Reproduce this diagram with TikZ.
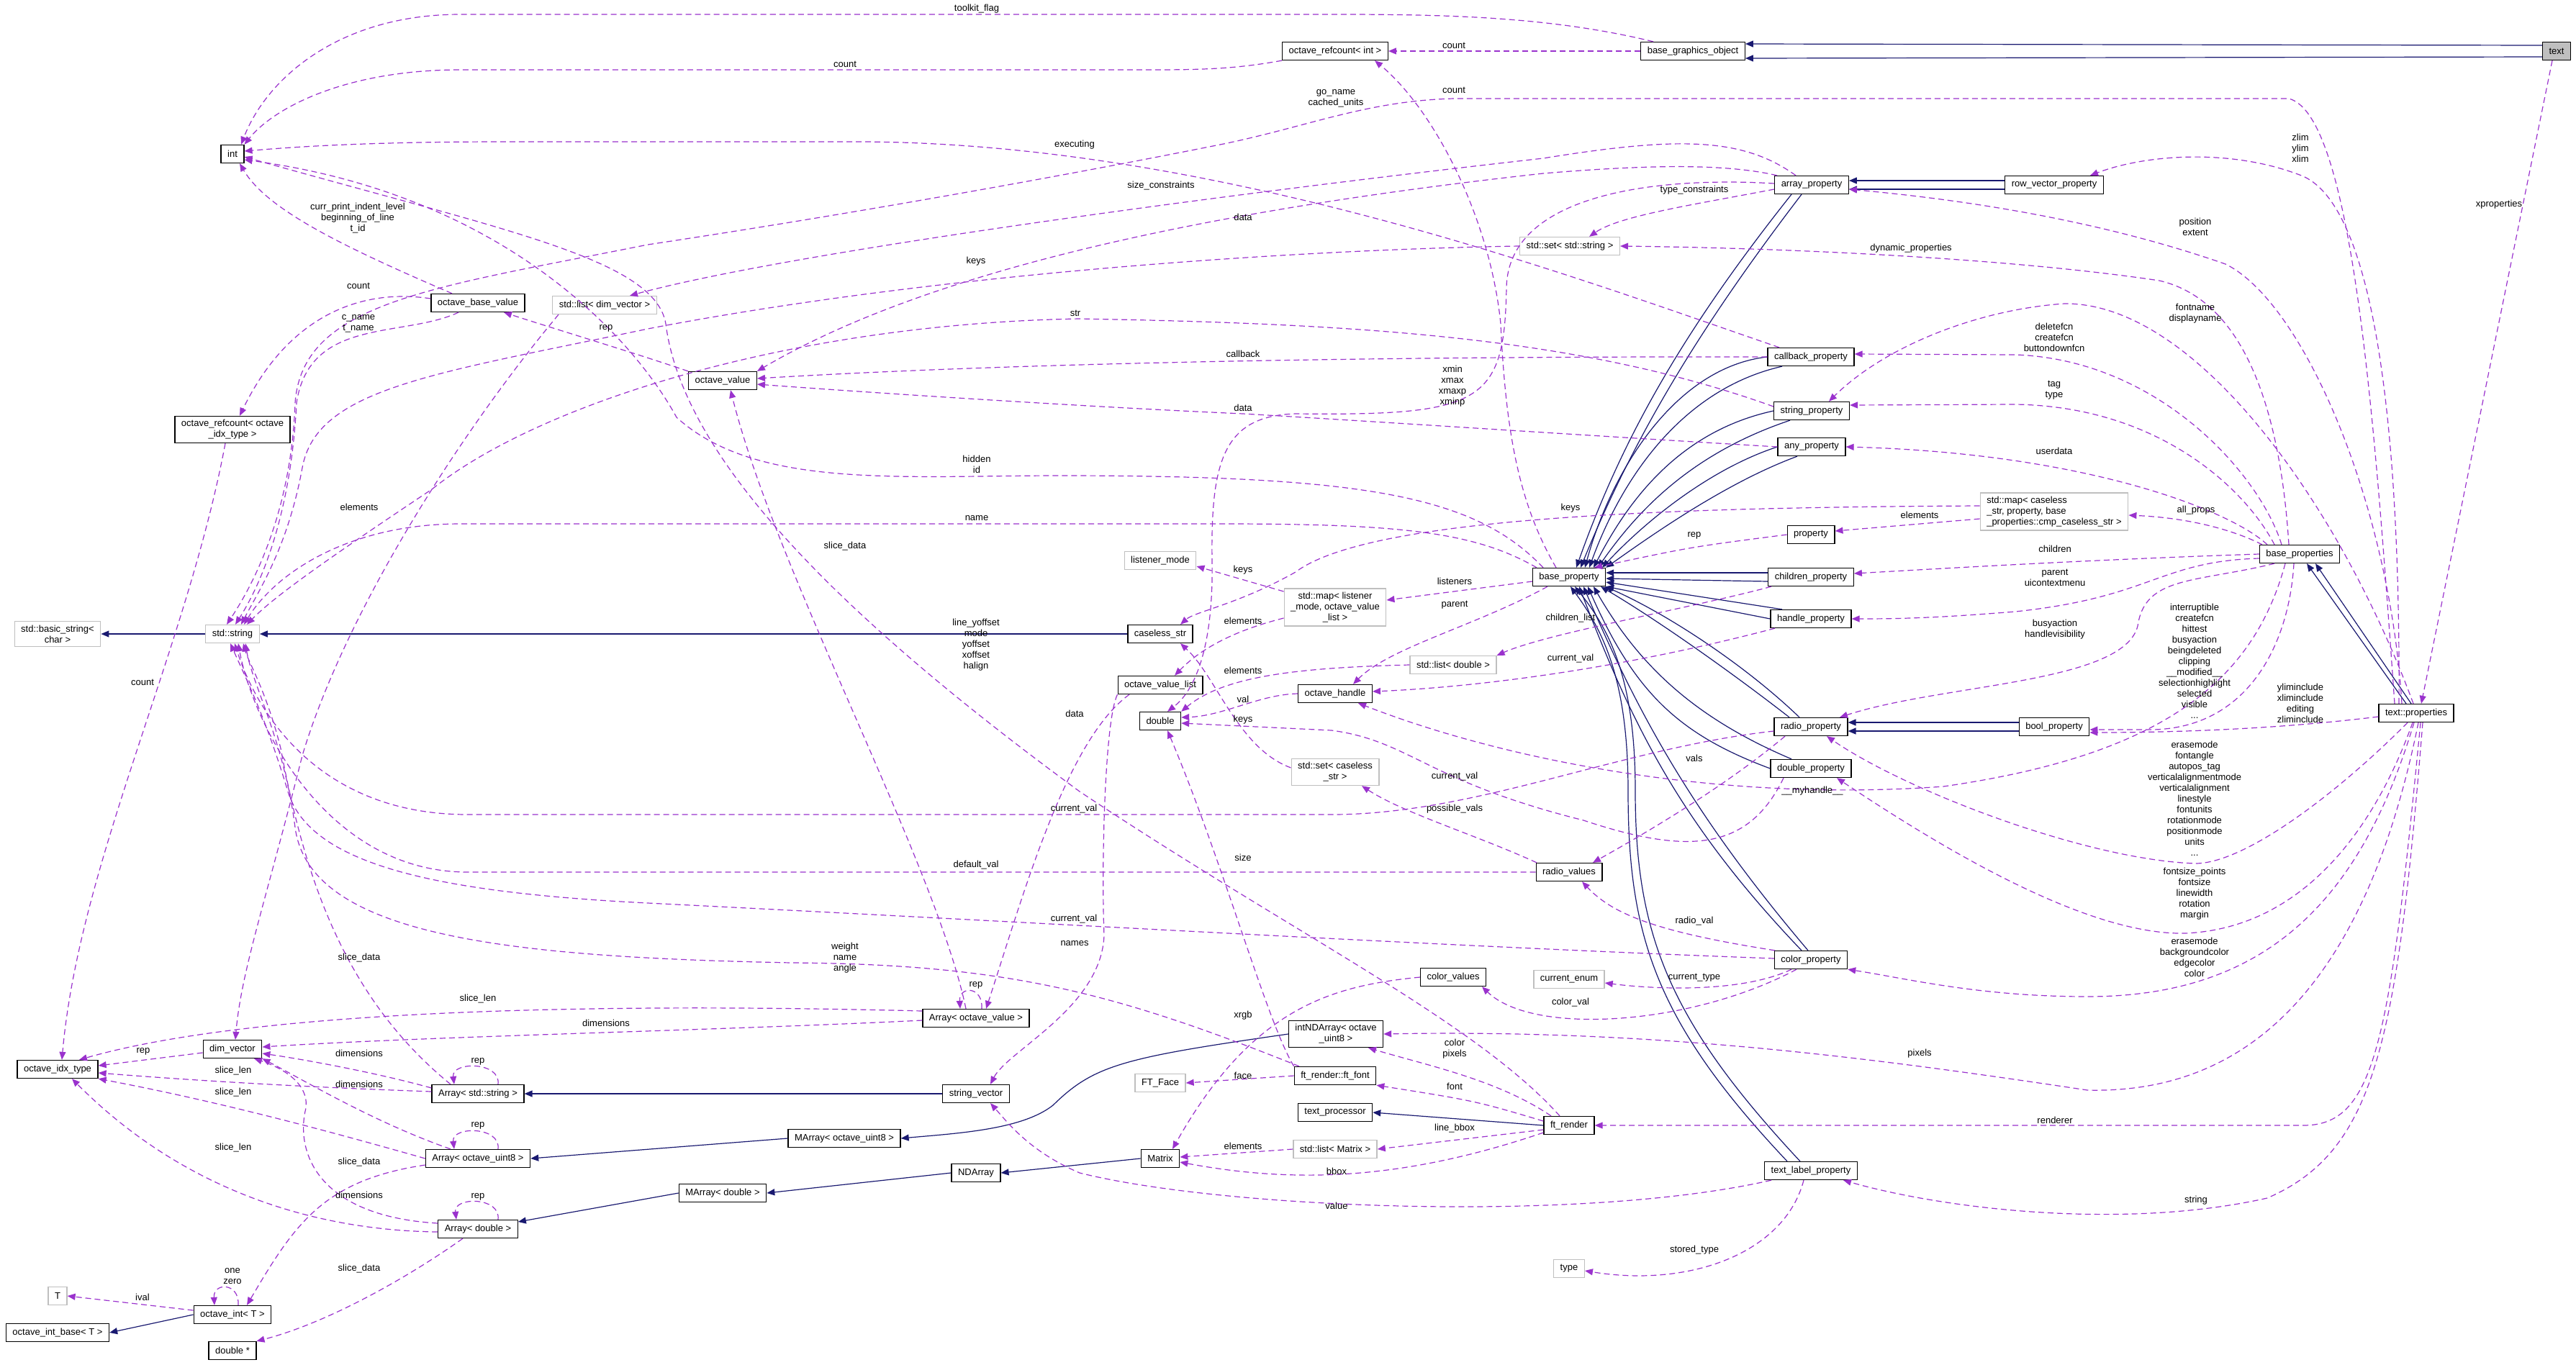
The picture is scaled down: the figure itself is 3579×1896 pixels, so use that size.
\documentclass[tikz,border=0pt]{standalone}
\usepackage{fontspec}
\setmainfont{Liberation Sans}
\usetikzlibrary{arrows.meta}
\definecolor{inhblue}{HTML}{191970}
\definecolor{usepurple}{HTML}{9A32CD}
\definecolor{extgray}{HTML}{BFBFBF}

\begin{document}
\begin{tikzpicture}[x=1pt, y=-1pt,
    cls/.style={draw=black, fill=white, line width=1.3pt, font=\fontsize{13}{15}\selectfont, minimum height=25pt, inner xsep=9pt, inner ysep=5pt, align=center},
    extcls/.style={cls, draw=extgray},
    inhedge/.style={draw=inhblue, line width=1.2pt, -{Triangle[length=11pt,width=9pt]}},
    usedge/.style={draw=usepurple, line width=1.2pt, dash pattern=on 8pt off 5pt, -{Triangle[length=11pt,width=9pt]}},
    lbl/.style={font=\fontsize{13}{15}\selectfont, align=center, inner sep=0pt}]
    \useasboundingbox (0,0) rectangle (3579,1896);

    % Classes, top rows
    \node[cls, fill=extgray] (txt) at (3552,71) {text};
    \node[cls] (bgo) at (2352,71) {base\_graphics\_object};
    \node[cls] (rcint) at (1855,71) {octave\_refcount< int >};
    \node[cls] (nint) at (323,214) {int};
    \node[cls] (obv) at (664,421) {octave\_base\_value};
    \node[extcls] (ldim) at (840,424) {std::list< dim\_vector >};
    \node[cls] (rcidx) at (323,597) {octave\_refcount< octave\\\_idx\_type >};
    \node[cls] (ov) at (1004,529) {octave\_value};
    \node[cls] (arr) at (2517,257) {array\_property};
    \node[cls] (rvp) at (2854,257) {row\_vector\_property};
    \node[extcls] (sset) at (2181,342) {std::set< std::string >};
    \node[cls] (cbp) at (2516,496) {callback\_property};
    \node[cls] (strp) at (2517,571) {string\_property};
    \node[cls] (anyp) at (2517,621) {any\_property};

    % Classes, middle rows
    \node[extcls] (bstr) at (80,881) {std::basic\_string<\\char >};
    \node[extcls] (str) at (323,881) {std::string};
    \node[extcls] (lmode) at (1612,779) {listener\_mode};
    \node[cls] (cstr) at (1612,881) {caseless\_str};
    \node[cls] (ovl) at (1612,952) {octave\_value\_list};
    \node[cls] (dbl) at (1612,1002) {double};
    \node[extcls] (mlis) at (1855,844) {std::map< listener\\\_mode, octave\_value\\\_list >};
    \node[extcls] (scs) at (1855,1073) {std::set< caseless\\\_str >};
    \node[cls] (bp) at (2180,802) {base\_property};
    \node[cls] (prop) at (2516,743) {property};
    \node[cls] (chp) at (2516,802) {children\_property};
    \node[cls] (hp) at (2516,860) {handle\_property};
    \node[extcls] (ldbl) at (2019,924) {std::list< double >};
    \node[cls] (oh) at (1855,964) {octave\_handle};
    \node[cls] (rp) at (2516,1010) {radio\_property};
    \node[cls] (dp) at (2516,1068) {double\_property};
    \node[cls] (rv) at (2180,1212) {radio\_values};
    \node[extcls, align=left] (mcs) at (2854,711) {std::map< caseless\\\_str, property, base\\\_properties::cmp\_caseless\_str >};
    \node[cls] (bps) at (3195,770) {base\_properties};
    \node[cls] (boolp) at (2854,1010) {bool\_property};
    \node[cls] (tprop) at (3357,991) {text::properties};

    % Classes, bottom rows
    \node[cls] (idx) at (80,1486) {octave\_idx\_type};
    \node[cls] (dimv) at (323,1458) {dim\_vector};
    \node[cls] (astr) at (664,1520) {Array< std::string >};
    \node[cls] (au8) at (664,1610) {Array< octave\_uint8 >};
    \node[cls] (adbl) at (664,1708) {Array< double >};
    \node[extcls] (T) at (80,1801) {T};
    \node[cls] (oint) at (323,1827) {octave\_int< T >};
    \node[cls] (oib) at (80,1852) {octave\_int\_base< T >};
    \node[cls] (dptr) at (323,1877) {double *};
    \node[cls] (aov) at (1356,1415) {Array< octave\_value >};
    \node[cls] (sv) at (1356,1520) {string\_vector};
    \node[cls] (mu8) at (1173,1582) {MArray< octave\_uint8 >};
    \node[cls] (nda) at (1356,1630) {NDArray};
    \node[cls] (mdbl) at (1004,1658) {MArray< double >};
    \node[extcls] (ftface) at (1612,1505) {FT\_Face};
    \node[cls] (mat) at (1612,1610) {Matrix};
    \node[cls] (inda) at (1856,1437) {intNDArray< octave\\\_uint8 >};
    \node[cls] (cv) at (2019,1358) {color\_values};
    \node[extcls] (cenum) at (2180,1361) {current\_enum};
    \node[cls] (cp) at (2516,1334) {color\_property};
    \node[cls] (ftfont) at (1855,1495) {ft\_render::ft\_font};
    \node[cls] (tproc) at (1855,1546) {text\_processor};
    \node[cls] (ftr) at (2180,1564) {ft\_render};
    \node[extcls] (lmat) at (1855,1597) {std::list< Matrix >};
    \node[cls] (tlp) at (2516,1627) {text\_label\_property};
    \node[extcls] (type) at (2180,1763) {type};

    % Inheritance
    \draw[inhedge] ([yshift=8pt]txt.west) -- ([yshift=10pt]bgo.east);
    \draw[inhedge] ([yshift=-8pt]txt.west) -- ([yshift=-10pt]bgo.east);
    \draw[inhedge] ([xshift=-14pt]tprop.north) -- ([xshift=10pt]bps.south);
    \draw[inhedge] ([xshift=-7pt]tprop.north) -- ([xshift=22pt]bps.south);
    \draw[inhedge] ([yshift=6pt]rvp.west) -- ([yshift=6pt]arr.east);
    \draw[inhedge] ([yshift=-6pt]rvp.west) -- ([yshift=-6pt]arr.east);
    \draw[inhedge] ([xshift=-28pt]arr.south) .. controls (2330,470) and (2250,620) .. ([xshift=10pt]bp.north);
    \draw[inhedge] ([xshift=-14pt]arr.south) .. controls (2350,470) and (2265,620) .. ([xshift=16pt]bp.north);
    \draw[inhedge] (cbp.west) .. controls (2330,510) and (2240,650) .. ([xshift=22pt]bp.north);
    \draw[inhedge] ([xshift=-40pt]cbp.south) .. controls (2340,540) and (2255,660) .. ([xshift=28pt]bp.north);
    \draw[inhedge] (strp.west) .. controls (2330,600) and (2260,700) .. ([xshift=34pt]bp.north);
    \draw[inhedge] ([xshift=-30pt]strp.south) .. controls (2350,630) and (2275,710) .. ([xshift=40pt]bp.north);
    \draw[inhedge] (anyp.west) .. controls (2380,650) and (2290,720) .. ([xshift=46pt]bp.north);
    \draw[inhedge] ([xshift=-20pt]anyp.south) .. controls (2400,670) and (2300,740) .. (bp.north east);
    \draw[inhedge] ([yshift=6pt]chp.west) -- ([yshift=6pt]bp.east);
    \draw[inhedge] ([yshift=-6pt]chp.west) -- ([yshift=-2pt]bp.east);
    \draw[inhedge] ([xshift=-40pt]hp.north) -- ([yshift=-7pt]bp.east);
    \draw[inhedge] (hp.west) -- (bp.south east);
    \draw[inhedge] ([xshift=-30pt]rp.north) .. controls (2400,930) and (2300,860) .. ([xshift=44pt]bp.south);
    \draw[inhedge] ([xshift=-16pt]rp.north) .. controls (2420,920) and (2310,850) .. ([xshift=50pt]bp.south);
    \draw[inhedge] (dp.west) .. controls (2330,1020) and (2270,960) .. ([xshift=26pt]bp.south);
    \draw[inhedge] ([xshift=-27pt]dp.north) .. controls (2360,1000) and (2280,930) .. ([xshift=34pt]bp.south);
    \draw[inhedge] ([xshift=-13pt]cp.north) .. controls (2330,1140) and (2265,1000) .. ([xshift=14pt]bp.south);
    \draw[inhedge] ([xshift=-4pt]cp.north) .. controls (2350,1130) and (2275,990) .. ([xshift=20pt]bp.south);
    \draw[inhedge] ([xshift=-33pt]tlp.north) .. controls (2300,1420) and (2262,1300) .. (2262,1100) .. controls (2262,950) and (2230,880) .. ([xshift=2pt]bp.south);
    \draw[inhedge] ([xshift=-15pt]tlp.north) .. controls (2320,1420) and (2272,1300) .. (2272,1100) .. controls (2272,950) and (2240,880) .. ([xshift=8pt]bp.south);
    \draw[inhedge] ([yshift=6pt]boolp.west) -- ([yshift=6pt]rp.east);
    \draw[inhedge] ([yshift=-6pt]boolp.west) -- ([yshift=-6pt]rp.east);
    \draw[inhedge] (str.west) -- (bstr.east);
    \draw[inhedge] (cstr.west) -- (str.east);
    \draw[inhedge] (sv.west) -- (astr.east);
    \draw[inhedge] (inda.west) .. controls (1560,1470) and (1520,1480) .. (1463,1536) .. controls (1420,1570) and (1330,1575) .. (mu8.east);
    \draw[inhedge] (mu8.west) -- (au8.east);
    \draw[inhedge] (mat.west) -- (nda.east);
    \draw[inhedge] (nda.west) -- (mdbl.east);
    \draw[inhedge] (mdbl.west) -- ([yshift=10pt]adbl.east);
    \draw[inhedge] (oint.west) -- (oib.east);
    \draw[inhedge] (ftr.west) -- (tproc.east);

    % Usage, top part
    \draw[usedge] ([xshift=-55pt]bgo.north) .. controls (2150,22) and (2000,20) .. (1850,20) -- (640,20) .. controls (470,20) and (370,110) .. ([xshift=12pt]nint.north);
    \draw[usedge] (bgo.west) -- (rcint.east);
    \draw[usedge] (rcint.south west) .. controls (1720,95) and (1680,97) .. (1600,97) -- (640,97) .. controls (480,97) and (380,150) .. (nint.north east);
    \draw[usedge] ([xshift=-18pt]bp.north) .. controls (2110,700) and (2092,600) .. (2085,450) .. controls (2070,300) and (1990,150) .. ([xshift=55pt]rcint.south);
    \draw[usedge] ([xshift=-30pt]tprop.north) .. controls (3300,600) and (3270,160) .. (3180,137) -- (2020,137) .. controls (1900,140) and (1820,175) .. (1700,200) .. controls (1400,260) and (1100,310) .. (900,340) .. controls (600,400) and (420,420) .. (410,560) .. controls (405,700) and (360,800) .. ([xshift=-8pt]str.north);
    \draw[usedge] ([xshift=-36pt]obv.north) .. controls (470,340) and (370,290) .. ([xshift=10pt]nint.south);
    \draw[usedge] ([yshift=6pt]obv.west) .. controls (500,400) and (400,440) .. ([xshift=10pt]rcidx.north);
    \draw[usedge] ([xshift=-27pt]obv.south) .. controls (560,470) and (430,440) .. (412,560) .. controls (405,700) and (370,800) .. ([xshift=4pt]str.north);
    \draw[usedge] (ov.north west) .. controls (880,490) and (780,460) .. ([xshift=36pt]obv.south);
    \draw[usedge] ([xshift=-44pt]cbp.north) .. controls (2200,390) and (1700,200) .. (1200,197) -- (700,197) .. controls (500,197) and (400,205) .. ([yshift=4pt]nint.east);
    \draw[usedge] ([xshift=-22pt]arr.north) .. controls (2420,190) and (2330,190) .. (2144,220) .. controls (1700,270) and (1100,350) .. ([xshift=35pt]ldim.north);
    \draw[usedge] ([xshift=-48pt]arr.north) .. controls (2400,228) and (2300,228) .. (2144,241) .. controls (1700,290) and (1300,370) .. (ov.north east);
    \draw[usedge] (sset.west) .. controls (1800,347) and (1300,380) .. (900,457) .. controls (600,520) and (440,540) .. (420,650) .. controls (400,760) and (360,820) .. ([xshift=12pt]str.north);
    \draw[usedge] ([yshift=6pt]strp.west) .. controls (2200,470) and (1900,450) .. (1500,443) .. controls (1100,450) and (750,560) .. (600,680) .. controls (450,780) and (380,830) .. ([xshift=20pt]str.north);
    \draw[usedge] ([xshift=-64pt]ldim.south) .. controls (640,600) and (480,850) .. (420,1050) .. controls (370,1250) and (335,1350) .. ([xshift=4pt]dimv.north);
    \draw[usedge] (cbp.west) .. controls (1900,495) and (1400,505) .. ([yshift=3pt]ov.east);
    \draw[usedge] (anyp.west) .. controls (2200,605) and (1900,585) .. (1727,575) .. controls (1500,565) and (1200,545) .. ([yshift=-5pt]ov.east);
    \draw[usedge] ([yshift=-6pt]arr.west) .. controls (2350,285) and (2250,300) .. ([xshift=27pt]sset.north);
    \draw[usedge] ([yshift=2pt]arr.west) .. controls (2300,245) and (2095,270) .. (2093,400) .. controls (2090,560) and (2060,578) .. (1800,575) .. controls (1700,578) and (1682,640) .. (1684,780) .. controls (1686,900) and (1660,960) .. ([xshift=10pt]dbl.north);
    \draw[usedge] ([xshift=-15pt]bps.north) .. controls (3170,600) and (3130,420) .. (3000,390) .. controls (2800,360) and (2500,345) .. (sset.east);
    \draw[usedge] ([xshift=-24pt]tprop.north) .. controls (3335,600) and (3300,290) .. (3200,245) .. controls (3100,205) and (2980,215) .. ([xshift=50pt]rvp.north);
    \draw[usedge] ([xshift=-20pt]tprop.north) .. controls (3320,700) and (3200,420) .. (3092,367) .. controls (2900,300) and (2700,275) .. ([yshift=-6pt]arr.east);
    \draw[usedge] ([xshift=-4pt]tprop.north) .. controls (3250,700) and (3050,420) .. (2868,422) .. controls (2750,430) and (2620,480) .. ([xshift=24pt]strp.north);
    \draw[usedge] ([xshift=-25pt]bps.north) .. controls (3140,660) and (3000,500) .. (2800,493) -- ([yshift=4pt]cbp.east);
    \draw[usedge] ([xshift=-35pt]bps.north) .. controls (3120,680) and (3000,565) .. (2800,562) -- ([yshift=8pt]strp.east);
    \draw[usedge] ([xshift=-45pt]bps.north) .. controls (3100,710) and (2900,630) .. (anyp.east);
    \draw[usedge] ([xshift=-52pt]bps.north) .. controls (3110,740) and (3050,720) .. ([yshift=-5pt]mcs.east);
    \draw[usedge] ([xshift=-6pt]txt.south) -- ([xshift=7pt]tprop.north);

    % Usage, middle part
    \draw[usedge] ([xshift=-13pt]ftr.north) .. controls (2050,1420) and (1800,1300) .. (1500,1100) .. controls (1200,880) and (950,650) .. (925,450) .. controls (910,360) and (700,320) .. ([yshift=-4pt]nint.east);
    \draw[usedge] ([xshift=-36pt]bp.north) .. controls (2050,690) and (1900,661) .. (1474,661) .. controls (1250,661) and (1050,680) .. (940,580) .. controls (880,470) and (700,270) .. ([yshift=-8pt]nint.east);
    \draw[usedge] ([xshift=-45pt]bp.north) .. controls (2050,740) and (1950,728) .. (1700,728) -- (640,728) .. controls (480,728) and (380,800) .. ([xshift=16pt]str.north);
    \draw[usedge] ([xshift=-14pt]aov.north) .. controls (1300,1200) and (1080,800) .. ([xshift=11pt]ov.south);
    \draw[usedge] ([yshift=-10pt]mcs.west) -- ([yshift=5pt]prop.east);
    \draw[usedge] ([yshift=8pt]mcs.west) .. controls (2300,705) and (1900,720) .. (1800,795) .. controls (1720,840) and (1660,850) .. ([xshift=28pt]cstr.north);
    \draw[usedge] (prop.west) .. controls (2350,760) .. ([xshift=35pt]bp.north);
    \draw[usedge] ([yshift=-6pt]bp.west) -- ([yshift=10pt]mlis.east);
    \draw[usedge] ([xshift=-30pt]bp.south) .. controls (2050,870) and (1930,900) .. ([xshift=25pt]oh.north);
    \draw[usedge] ([xshift=-55pt]chp.south) .. controls (2350,845) and (2150,880) .. (ldbl.north east);
    \draw[usedge] ([xshift=-50pt]hp.south) .. controls (2250,930) and (2050,955) .. ([yshift=3pt]oh.east);
    \draw[usedge] (bps.west) .. controls (2900,778) and (2700,790) .. ([yshift=5pt]chp.east);
    \draw[usedge] ([yshift=-6pt]bps.west) .. controls (3000,780) and (2990,830) .. (2800,850) .. controls (2700,858) and (2650,860) .. (hp.east);
    \draw[usedge] ([xshift=-35pt]bps.south) .. controls (3050,810) and (2980,800) .. (2970,870) .. controls (2950,950) and (2700,950) .. ([xshift=40pt]rp.north);
    \draw[usedge] ([xshift=-8pt]bps.south) .. controls (3180,900) and (3120,1012) .. (2990,1014) -- ([yshift=-4pt]boolp.east);
    \draw[usedge] ([yshift=-5pt]tprop.west) .. controls (3150,1015) and (3000,1018) .. ([yshift=-8pt]boolp.east);
    \draw[usedge] ([xshift=-12pt]tprop.south) .. controls (3250,1100) and (3120,1200) .. (3050,1200) .. controls (2900,1195) and (2650,1100) .. ([xshift=22pt]rp.south);
    \draw[usedge] ([xshift=-5pt]tprop.south) .. controls (3300,1150) and (3200,1290) .. (3036,1297) .. controls (2900,1300) and (2700,1180) .. ([xshift=36pt]dp.south);
    \draw[usedge] ([xshift=-20pt]bps.south) .. controls (3130,950) and (3000,1050) .. (2700,1093) .. controls (2400,1115) and (2100,1060) .. ([xshift=32pt]oh.south);
    \draw[usedge] ([xshift=-36pt]rp.south) .. controls (2400,1090) and (2300,1150) .. ([xshift=33pt]rv.north);
    \draw[usedge] ([xshift=-45pt]rv.north) .. controls (2050,1160) and (1950,1130) .. ([xshift=37pt]scs.south);
    \draw[usedge] (rv.west) -- (650,1212) .. controls (450,1212) and (350,1000) .. ([xshift=8pt]str.south);
    \draw[usedge] ([yshift=-6pt]rp.west) .. controls (2250,1040) and (2050,1132) .. (1850,1132) -- (650,1132) .. controls (450,1132) and (360,1000) .. ([xshift=3pt]str.south);
    \draw[usedge] ([xshift=-38pt]dp.south) .. controls (2430,1180) and (2350,1190) .. (2200,1140) .. controls (1980,1085) and (1960,1030) .. (1850,1015) -- ([yshift=-3pt]dbl.east);
    \draw[usedge] ([yshift=22pt]mlis.west) -- ([yshift=-8pt]lmode.east);
    \draw[usedge] ([yshift=-15pt]mlis.west) .. controls (1700,880) and (1660,910) .. ([xshift=20pt]ovl.north);
    \draw[usedge] (ldbl.west) .. controls (1800,928) and (1700,940) .. (dbl.north east);
    \draw[usedge] (oh.west) .. controls (1750,965) and (1700,995) .. ([yshift=5pt]dbl.east);
    \draw[usedge] ([yshift=6pt]scs.west) .. controls (1720,1040) and (1690,940) .. ([xshift=28pt]cstr.south);
    \draw[usedge] ([xshift=-43pt]ovl.south) .. controls (1480,1030) and (1420,1250) .. ([xshift=14pt]aov.north);
    \draw[usedge] (ovl.south west) .. controls (1535,1000) and (1530,1200) .. (1534,1300) .. controls (1530,1400) and (1400,1460) .. ([xshift=20pt]sv.north);

    % Usage, bottom part
    \draw[usedge] ([xshift=-3pt]tprop.south) .. controls (3280,1250) and (3150,1385) .. (2900,1385) .. controls (2750,1385) and (2650,1360) .. (cp.south east);
    \draw[usedge] ([xshift=3pt]tprop.south) .. controls (3280,1400) and (3100,1520) .. (2900,1515) .. controls (2600,1470) and (2300,1430) .. (inda.east);
    \draw[usedge] ([xshift=6pt]tprop.south) .. controls (3320,1450) and (3300,1564) .. (3200,1564) -- (ftr.east);
    \draw[usedge] ([xshift=9pt]tprop.south) .. controls (3330,1450) and (3300,1600) .. (3150,1665) .. controls (2950,1710) and (2700,1680) .. ([xshift=45pt]tlp.south);
    \draw[usedge] ([xshift=-38pt]astr.north) .. controls (470,1380) and (420,1200) .. (390,1040) .. controls (370,960) and (345,920) .. ([xshift=15pt]str.south);
    \draw[usedge] ([yshift=-5pt]dimv.west) -- ([yshift=5pt]idx.east);
    \draw[usedge] ([yshift=8pt]astr.west) .. controls (520,1490) and (420,1472) .. ([yshift=-6pt]dimv.east);
    \draw[usedge] ([yshift=3pt]astr.west) .. controls (400,1510) and (250,1500) .. ([yshift=-5pt]idx.east);
    \draw[usedge] ([xshift=-38pt]au8.north) .. controls (520,1560) and (420,1500) .. (dimv.south east);
    \draw[usedge] (au8.west) .. controls (450,1570) and (300,1530) .. (idx.south east);
    \draw[usedge] ([yshift=-4pt]adbl.west) .. controls (430,1710) and (250,1650) .. ([xshift=20pt]idx.south);
    \draw[usedge] ([yshift=8pt]adbl.west) .. controls (440,1690) and (410,1600) .. (425,1540) .. controls (430,1500) and (380,1480) .. ([xshift=30pt]dimv.south);
    \draw[usedge] ([yshift=-9pt]au8.west) .. controls (450,1640) and (410,1700) .. ([xshift=20pt]oint.north);
    \draw[usedge] ([xshift=-21pt]adbl.south) .. controls (560,1780) and (450,1840) .. (dptr.north east);
    \draw[usedge] ([yshift=6pt]oint.west) -- (T.east);
    \draw[usedge] ([xshift=-10pt]rcidx.south) .. controls (260,900) and (110,1200) .. ([xshift=6pt]idx.north);
    \draw[usedge] ([yshift=-3pt]aov.west) .. controls (1000,1432) and (600,1440) .. ([yshift=3pt]dimv.east);
    \draw[usedge] ([yshift=10pt]aov.west) .. controls (1000,1398) and (400,1390) .. ([xshift=30pt]idx.north);
    \draw[usedge] ([xshift=-50pt]ftfont.north) .. controls (1550,1380) and (1400,1340) .. (1100,1338) .. controls (700,1330) and (430,1300) .. (410,1150) .. controls (395,1030) and (350,950) .. ([xshift=18pt]str.south);
    \draw[usedge] ([yshift=2pt]cp.west) .. controls (2000,1315) and (1500,1285) .. (900,1255) .. controls (600,1240) and (430,1200) .. (400,1100) .. controls (370,1000) and (345,950) .. ([xshift=-3pt]str.south);
    \draw[usedge] (ftfont.north west) .. controls (1760,1420) and (1700,1200) .. ([xshift=10pt]dbl.south);
    \draw[usedge] (ftfont.west) -- (ftface.east);
    \draw[usedge] (cv.west) .. controls (1850,1370) and (1740,1400) .. ([xshift=17pt]mat.north);
    \draw[usedge] ([xshift=-50pt]cp.north) .. controls (2300,1295) and (2240,1270) .. ([xshift=18pt]rv.south);
    \draw[usedge] ([xshift=-27pt]cp.south) .. controls (2420,1380) and (2300,1375) .. ([yshift=-5pt]cenum.east);
    \draw[usedge] ([xshift=-20pt]cp.south) .. controls (2350,1425) and (2130,1440) .. ([xshift=40pt]cv.south);
    \draw[usedge] ([xshift=-25pt]ftr.north) .. controls (2080,1500) and (1980,1480) .. ([xshift=45pt]inda.south);
    \draw[usedge] ([yshift=6pt]ftr.west) .. controls (2050,1530) .. (ftfont.south east);
    \draw[usedge] ([yshift=-6pt]ftr.west) -- (lmat.east);
    \draw[usedge] ([yshift=-10pt]ftr.west) .. controls (1950,1640) and (1800,1645) .. ([yshift=-5pt]mat.east);
    \draw[usedge] (lmat.west) -- ([yshift=2pt]mat.east);
    \draw[usedge] ([xshift=-55pt]tlp.south) .. controls (2200,1700) and (1700,1680) .. (1500,1630) .. controls (1430,1600) and (1400,1560) .. ([xshift=20pt]sv.south);
    \draw[usedge] ([xshift=-10pt]tlp.south) .. controls (2480,1740) and (2350,1790) .. ([yshift=-3pt]type.east);

    % Self references
    \draw[usedge] ([xshift=28pt]astr.north) .. controls +(4,-32) and +(-4,-32) .. ([xshift=-33pt]astr.north);
    \draw[usedge] ([xshift=28pt]au8.north) .. controls +(4,-32) and +(-4,-32) .. ([xshift=-33pt]au8.north);
    \draw[usedge] ([xshift=28pt]adbl.north) .. controls +(4,-32) and +(-4,-32) .. ([xshift=-30pt]adbl.north);
    \draw[usedge] ([xshift=8pt]oint.north) .. controls +(2,-32) and +(-2,-32) .. ([xshift=-25pt]oint.north);
    \draw[usedge] ([xshift=8pt]aov.north) .. controls +(2,-32) and +(-2,-32) .. ([xshift=-22pt]aov.north);

    % Member names
    \node[lbl] (l-tkf) at (1357,12) {toolkit\_flag};
    \node[lbl] (l-cnt1) at (2020,63) {count};
    \node[lbl] (l-cnt2) at (1174,89) {count};
    \node[lbl] (l-cnt3) at (2020,125) {count};
    \node[lbl] (l-gon) at (1856,137) {go\_name\\cached\_units};
    \node[lbl] (l-cpil) at (497,303) {curr\_print\_indent\_level\\beginning\_of\_line\\t\_id};
    \node[lbl] (l-cnt4) at (498,397) {count};
    \node[lbl] (l-cnam) at (498,450) {c\_name\\t\_name};
    \node[lbl] (l-rep1) at (842,456) {rep};
    \node[lbl] (l-exe) at (1493,201) {executing};
    \node[lbl] (l-szc) at (1613,258) {size\_constraints};
    \node[lbl] (l-dat1) at (1727,302) {data};
    \node[lbl] (l-key1) at (1356,363) {keys};
    \node[lbl] (l-str) at (1494,435) {str};
    \node[lbl] (l-cb) at (1727,492) {callback};
    \node[lbl] (l-dat2) at (1727,567) {data};
    \node[lbl] (l-tyc) at (2354,264) {type\_constraints};
    \node[lbl] (l-dyn) at (2655,345) {dynamic\_properties};
    \node[lbl] (l-lim) at (3196,206) {zlim\\ylim\\xlim};
    \node[lbl] (l-pos) at (3050,315) {position\\extent};
    \node[lbl] (l-fnt) at (3050,436) {fontname\\displayname};
    \node[lbl] (l-fcn) at (2854,469) {deletefcn\\createfcn\\buttondownfcn};
    \node[lbl] (l-tag) at (2854,542) {tag\\type};
    \node[lbl] (l-ud) at (2854,627) {userdata};
    \node[lbl] (l-xmin) at (2018,537) {xmin\\xmax\\xmaxp\\xminp};
    \node[lbl] (l-lyo) at (1356,896) {line\_yoffset\\mode\\yoffset\\xoffset\\halign};
    \node[lbl] (l-hid) at (1357,645) {hidden\\id};
    \node[lbl] (l-nam) at (1357,720) {name};
    \node[lbl] (l-sd1) at (1174,759) {slice\_data};
    \node[lbl] (l-elm1) at (499,705) {elements};
    \node[lbl] (l-allp) at (3051,709) {all\_props};
    \node[lbl] (l-elm2) at (2667,716) {elements};
    \node[lbl] (l-key2) at (2182,706) {keys};
    \node[lbl] (l-rep2) at (2354,744) {rep};
    \node[lbl] (l-lis) at (2021,808) {listeners};
    \node[lbl] (l-par) at (2021,841) {parent};
    \node[lbl] (l-chl) at (2182,859) {children\_list};
    \node[lbl] (l-cv1) at (2182,915) {current\_val};
    \node[lbl] (l-chi) at (2855,763) {children};
    \node[lbl] (l-puc) at (2855,803) {parent\\uicontextmenu};
    \node[lbl] (l-bah) at (2855,875) {busyaction\\handlevisibility};
    \node[lbl] (l-bool) at (3049,919) {interruptible\\createfcn\\hittest\\busyaction\\beingdeleted\\clipping\\\_\_modified\_\_\\selectionhighlight\\selected\\visible\\...};
    \node[lbl] (l-ylim) at (3196,977) {yliminclude\\xliminclude\\editing\\zliminclude};
    \node[lbl] (l-erm) at (3049,1110) {erasemode\\fontangle\\autopos\_tag\\verticalalignmentmode\\verticalalignment\\linestyle\\fontunits\\rotationmode\\positionmode\\units\\...};
    \node[lbl] (l-fsz) at (3049,1242) {fontsize\_points\\fontsize\\linewidth\\rotation\\margin};
    \node[lbl] (l-col) at (3049,1330) {erasemode\\backgroundcolor\\edgecolor\\color};
    \node[lbl] (l-pix) at (2667,1464) {pixels};
    \node[lbl] (l-ren) at (2855,1557) {renderer};
    \node[lbl] (l-strg) at (3051,1668) {string};
    \node[lbl] (l-xpr) at (3472,284) {xproperties};
    \node[lbl] (l-vals) at (2354,1054) {vals};
    \node[lbl] (l-posv) at (2021,1124) {possible\_vals};
    \node[lbl] (l-dfv) at (1356,1202) {default\_val};
    \node[lbl] (l-cv2) at (1492,1124) {current\_val};
    \node[lbl] (l-cv3) at (2021,1079) {current\_val};
    \node[lbl] (l-myh) at (2518,1099) {\_\_myhandle\_\_};
    \node[lbl] (l-size) at (1727,1192) {size};
    \node[lbl] (l-wna) at (1174,1331) {weight\\name\\angle};
    \node[lbl] (l-dat3) at (1493,992) {data};
    \node[lbl] (l-nms) at (1493,1311) {names};
    \node[lbl] (l-key3) at (1727,792) {keys};
    \node[lbl] (l-elm3) at (1727,863) {elements};
    \node[lbl] (l-elm4) at (1727,932) {elements};
    \node[lbl] (l-val) at (1727,972) {val};
    \node[lbl] (l-key4) at (1727,1000) {keys};
    \node[lbl] (l-elm5) at (1727,1593) {elements};
    \node[lbl] (l-rep3) at (1356,1369) {rep};
    \node[lbl] (l-sl1) at (664,1388) {slice\_len};
    \node[lbl] (l-dim1) at (842,1422) {dimensions};
    \node[lbl] (l-rep4) at (199,1461) {rep};
    \node[lbl] (l-dim2) at (499,1464) {dimensions};
    \node[lbl] (l-sl2) at (324,1488) {slice\_len};
    \node[lbl] (l-dim3) at (499,1507) {dimensions};
    \node[lbl] (l-sl3) at (324,1518) {slice\_len};
    \node[lbl] (l-sl4) at (324,1595) {slice\_len};
    \node[lbl] (l-sd2) at (499,1615) {slice\_data};
    \node[lbl] (l-dim4) at (499,1661) {dimensions};
    \node[lbl] (l-sd3) at (499,1763) {slice\_data};
    \node[lbl] (l-onez) at (323,1774) {one\\zero};
    \node[lbl] (l-ival) at (198,1803) {ival};
    \node[lbl] (l-rep5) at (664,1475) {rep};
    \node[lbl] (l-rep6) at (664,1564) {rep};
    \node[lbl] (l-rep7) at (664,1663) {rep};
    \node[lbl] (l-rv) at (2354,1280) {radio\_val};
    \node[lbl] (l-ctyp) at (2354,1359) {current\_type};
    \node[lbl] (l-cval) at (2182,1393) {color\_val};
    \node[lbl] (l-xrgb) at (1727,1411) {xrgb};
    \node[lbl] (l-cpix) at (2021,1458) {color\\pixels};
    \node[lbl] (l-font) at (2021,1510) {font};
    \node[lbl] (l-face) at (1727,1495) {face};
    \node[lbl] (l-lbb) at (2021,1568) {line\_bbox};
    \node[lbl] (l-bbox) at (1857,1628) {bbox};
    \node[lbl] (l-valu) at (1857,1676) {value};
    \node[lbl] (l-sty) at (2354,1737) {stored\_type};
    \node[lbl] (l-cv4) at (1492,1277) {current\_val};
    \node[lbl] (l-cnt5) at (198,948) {count};
    \node[lbl] (l-sd4) at (499,1331) {slice\_data};
\end{tikzpicture}
\end{document}
